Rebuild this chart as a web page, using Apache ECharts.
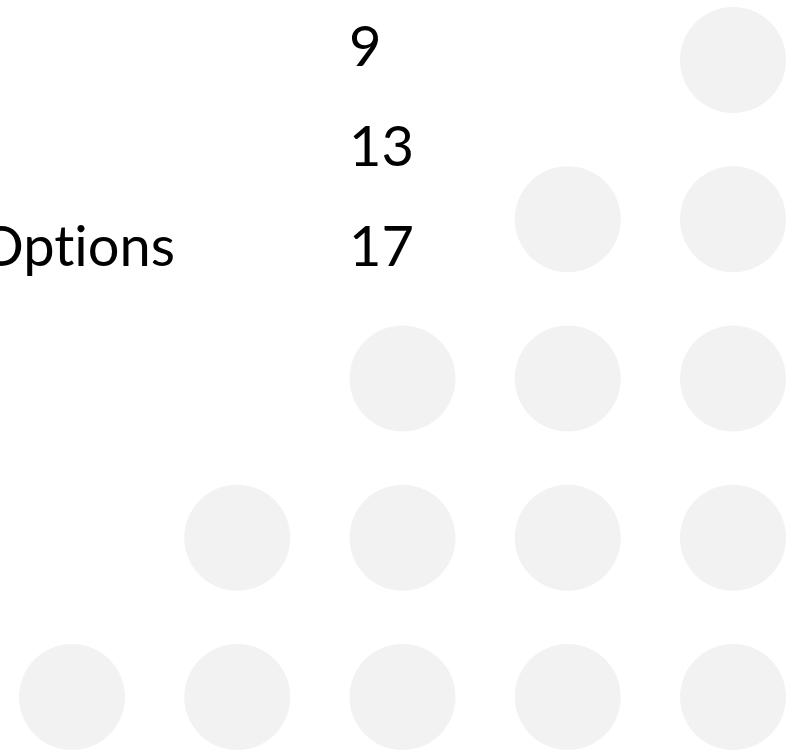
<!DOCTYPE html>
<html>
<head>
<meta charset="utf-8">
<style>
  html, body { margin: 0; padding: 0; background: #ffffff; }
  #chart { width: 786px; height: 750px; }
</style>
<script src="https://cdn.jsdelivr.net/npm/echarts@6/dist/echarts.min.js"></script>
</head>
<body>
<div id="chart"></div>
<script>
// Data
var columns = [0, 1, 2, 3, 4];
var rows = [0, 1, 2, 3, 4];
// number of filled dots in each row (right-aligned), top row first
var rowCounts = [1, 2, 3, 4, 5];
var valueLabels = ['9', '13', '17'];
var rowLabel = 'Op\u200Ct\u200Ci\u200Cons';

var dots = [];
rows.forEach(function (r) {
  var n = rowCounts[r];
  for (var c = columns.length - n; c < columns.length; c++) {
    dots.push([c, r]);
  }
});

var FONT = 'Lato, "Noto Sans", sans-serif';
var graphics = valueLabels.map(function (t, i) {
  return {
    type: 'text',
    left: 349,
    top: 20 + i * 100,
    style: { text: t, fill: '#000000', font: '56px ' + FONT }
  };
});
graphics.push({
  type: 'text',
  right: 786 - 175,
  top: 220,
  style: { text: rowLabel, fill: '#000000', font: '56px ' + FONT }
});

var chart = echarts.init(document.getElementById('chart'), null, { renderer: 'canvas' });
chart.setOption({
  animation: false,
  backgroundColor: '#ffffff',
  grid: { left: 72, top: 60, width: 661, height: 637 },
  xAxis: { type: 'value', min: 0, max: 4, show: false },
  yAxis: { type: 'value', min: 0, max: 4, inverse: true, show: false },
  series: [{
    type: 'scatter',
    symbol: 'circle',
    symbolSize: 106,
    itemStyle: { color: '#f2f2f2', opacity: 1 },
    data: dots,
    silent: true,
    z: 1
  }],
  graphic: graphics
});
</script>
</body>
</html>
